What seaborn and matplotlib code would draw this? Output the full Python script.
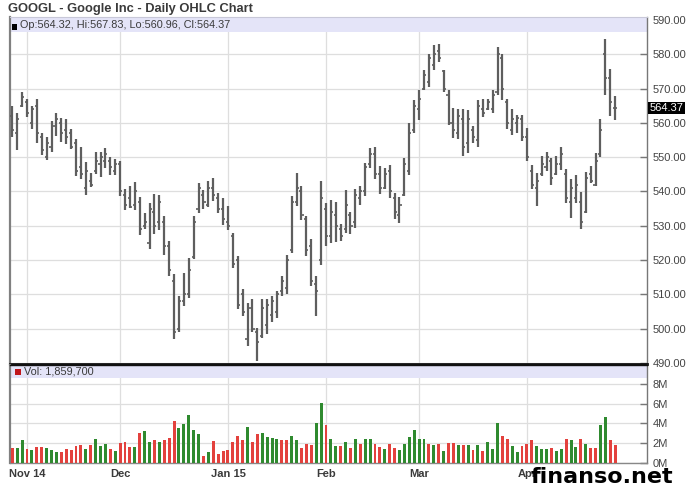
import numpy as np
import pandas as pd
import matplotlib
matplotlib.use("Agg")
import matplotlib.pyplot as plt
from matplotlib.patches import Rectangle
from matplotlib.ticker import FuncFormatter, FixedLocator
import matplotlib.transforms as mtransforms
import seaborn as sns

# ---------------- data ----------------
holidays = ["2014-11-27", "2014-12-25", "2015-01-01", "2015-01-19", "2015-02-16", "2015-04-03"]
dates = [d for d in pd.bdate_range("2014-10-29", "2015-04-28") if d.strftime("%Y-%m-%d") not in holidays]

opens = [562, 557, 565, 566, 560, 565, 556, 550, 553, 559,
         560, 558, 557, 554, 547, 541, 543, 546, 548, 549,
         549, 546, 548, 539, 538, 536, 537, 530, 525, 534,
         531, 531, 524, 514, 500, 508, 510, 521, 535, 539,
         536, 541, 538, 535, 531, 527, 520, 510, 497, 506,
         499, 498, 501, 504, 505, 511, 512, 523, 537, 540,
         532, 524, 513, 520, 535, 527, 533, 529, 529, 533,
         531, 538, 540, 548, 551, 545, 541, 546, 538, 533,
         539, 546, 558, 564, 570, 572, 577, 581, 575, 568,
         560, 557, 561, 554, 558, 555, 564, 564, 564, 569,
         579, 566, 558, 560, 561, 556, 546, 541, 545, 547,
         549, 545, 548, 545, 537, 538, 537, 534, 545, 542,
         551, 580, 573, 564.32]
highs = [565, 563, 569, 567.1, 564.9, 566.9, 557, 555.8, 560.6, 562.8,
         561.3, 561, 558.1, 555.2, 553.1, 548.5, 545.4, 551.4, 551.4, 552.6,
         550, 549.6, 549, 540.7, 541.5, 542.7, 538.4, 533.8, 536.5, 539.4,
         539, 532.8, 525.5, 515.8, 509.5, 516.3, 520.7, 532.8, 542.4, 540.5,
         543.2, 543.9, 539.5, 538.1, 535.7, 527.9, 521.2, 511.5, 507.6, 508.6,
         500.3, 508.6, 508.6, 509.5, 511, 515.5, 521.6, 538.6, 545.4, 541.5,
         532.8, 526, 515.3, 543.2, 536.7, 537.5, 536.9, 530.4, 540.3, 534,
         540.8, 541.5, 548.3, 552.7, 552.9, 547.3, 546.9, 547.8, 539.6, 538.5,
         549.8, 559.9, 566.7, 569.6, 575.4, 580.2, 582.6, 582.9, 575.4, 569.6,
         564.3, 564, 564, 563.8, 559, 566.7, 567.1, 567.1, 569.6, 582.1,
         580.2, 567.1, 564, 562.3, 562.3, 558.5, 547.8, 545.4, 550.2, 551.4,
         549.8, 550.2, 553.1, 546.6, 543.5, 544.9, 539.8, 545.6, 547.5, 551.2,
         561.1, 584.5, 575.6, 567.83]
lows = [556, 552, 564.5, 561.8, 558.1, 554.1, 550.7, 549.2, 551.6, 556.2,
        554.5, 553.9, 552.3, 544.4, 543.6, 539.1, 541.3, 545.2, 544.2, 546.8,
        544.9, 544.9, 538.6, 534.5, 535.2, 534.7, 527.2, 529.1, 523.3, 527.5,
        528.9, 521.5, 515.3, 497.1, 499.1, 506.6, 508.8, 520.4, 533.7, 534.9,
        535.5, 537.1, 533.7, 530.3, 528.9, 517.8, 505.7, 503.7, 495, 498.9,
        490.7, 497.4, 498.4, 501.8, 503.2, 509.5, 510, 522.1, 535.7, 531.8,
        521.2, 512.4, 503.7, 518.7, 524.2, 525.1, 525.4, 525.6, 528, 527.5,
        529.3, 536, 538.6, 546.9, 543.5, 539.4, 540.6, 538.2, 531.9, 530.9,
        538.6, 544.9, 557, 560.9, 569.6, 570.5, 575.4, 577.8, 569.1, 559.4,
        555.6, 555.3, 550.2, 551.2, 554, 553.1, 561.8, 563.8, 562.8, 568.1,
        566.7, 558.2, 556.5, 557, 554.6, 548.8, 540.6, 535.7, 544.4, 545.9,
        542, 544.9, 546.4, 536.7, 532.4, 536.7, 529, 533.8, 542.5, 541.5,
        550, 568.1, 562, 560.96]
closes = [558, 561, 567.5, 563, 564, 557, 552, 554, 559, 561,
          557, 556, 553, 546, 545, 546, 542, 549, 550, 551,
          547, 548, 540, 536, 535.5, 540, 529, 531, 535, 530,
          537, 524, 517, 499, 508, 510, 517, 531, 541, 537,
          541, 539, 535, 532, 530, 519, 507, 505, 506, 500,
          496, 506, 507, 508, 510, 514, 520, 537, 541, 533,
          523, 514, 511, 538, 527, 534, 530, 527, 536, 530,
          539, 540, 547, 551, 545, 541, 545, 540, 534, 536,
          548, 557, 565, 567, 574, 579, 580, 579, 570, 560,
          558, 562, 553, 561, 556, 565, 563, 566, 568, 580,
          570, 560, 561, 561.5, 556, 550, 542, 543, 548, 550,
          544, 548, 551, 538, 541, 542, 531, 544, 543, 549,
          558, 573, 566, 564.37]
volumes_m = [1.5, 1.56, 2.3, 1.46, 1.36, 1.63, 1.63, 1.56, 1.29, 1.08,
             1.08, 1.46, 1.36, 1.69, 1.8, 1.46, 1.8, 2.47, 1.69, 1.9,
             1.46, 1.22, 2.03, 2.14, 1.63, 1.63, 3.05, 3.22, 2.17, 2.3,
             2.1, 2.37, 2.58, 4.27, 3.59, 3.93, 4.85, 3.32, 2.92, 0.68,
             1.08, 2.24, 0.95, 1.22, 1.36, 2.1, 2.71, 2.3, 3.66, 2.1,
             2.92, 3.08, 2.64, 2.58, 2.47, 2.3, 2.3, 2.78, 2.3, 1.49,
             1.97, 1.8, 4.0, 6.1, 3.8, 2.44, 1.69, 1.69, 2.1, 1.53,
             2.41, 1.9, 2.41, 2.41, 1.97, 1.63, 1.46, 1.9, 1.56, 1.36,
             1.97, 2.64, 3.39, 2.47, 2.47, 1.9, 1.8, 1.9, 1.19, 2.03,
             2.03, 1.8, 1.8, 1.8, 1.36, 1.8, 1.22, 2.14, 1.46, 4.0,
             2.71, 2.47, 1.69, 1.12, 1.69, 1.9, 2.37, 1.69, 1.46, 1.46,
             1.56, 1.22, 1.46, 2.41, 2.3, 1.63, 2.47, 1.9, 1.56, 1.56,
             3.83, 4.61, 2.37, 1.8597]
vol_dirs = ("r" + "ggrgrrgggr" + "rrrrgrgggr" + "grrrgrggrg" + "rrrgggggrg"
            + "rrrrrrrgrr" + "ggggrrggrr" + "rggrggrgrg" + "rggrrgrrgg"
            + "ggggrgrgrr" + "grgrgrgggr" + "rggrrrgggr" + "ggrggrgrrg" + "grr")
month_labels = ["Nov 14", "Dec", "Jan 15", "Feb", "Mar", "Apr"]
price_ticks = [490, 500, 510, 520, 530, 540, 550, 560, 570, 580, 590]
vol_ticks_m = [0, 2, 4, 6, 8]
title = "GOOGL - Google Inc - Daily OHLC Chart"
info = "Op:564.32, Hi:567.83, Lo:560.96, Cl:564.37"
vol_info = "Vol: 1,859,700"
last_close = 564.37

# ---------------- build frames ----------------
n = len(dates)
idx = np.arange(n)
df = pd.DataFrame({"idx": idx, "date": dates, "open": opens, "high": highs,
                   "low": lows, "close": closes,
                   "vol": np.array(volumes_m) * 1e6,
                   "dir": ["up" if c == "g" else "down" for c in vol_dirs]})
month_pos = [int(df.index[(df.date.dt.month == m) & (df.date.dt.year == y)][0])
             for y, m in [(2014, 11), (2014, 12), (2015, 1), (2015, 2), (2015, 3), (2015, 4)]]

# ---------------- style ----------------
sns.set_theme(style="white")
plt.rcParams["font.family"] = ["Liberation Sans", "DejaVu Sans"]

W, H = 688, 503
fig = plt.figure(figsize=(W / 100, H / 100), dpi=100)
fig.patch.set_facecolor("white")

def fx(px):
    return px / W

def fy(py):
    return 1 - py / H

ax = fig.add_axes([fx(10), fy(364), fx(637), (364 - 17) / H])
axv = fig.add_axes([fx(10), fy(463), fx(637), (463 - 365) / H])

grid_c = "#dedede"
bar_c = "#5e5e5e"
lav = "#e4e4f8"
green = "#2f8a2f"
red = "#e3413d"
txt_c = "#3a3a3a"

xlim = (-0.47, 129.5)

# ---- price panel ----
ax.set_xlim(*xlim)
ax.set_ylim(489.7, 590.87)
ax.vlines(df.idx, df.low, df.high, color=bar_c, lw=1.6, zorder=3)
ax.hlines(df.open, df.idx - 0.42, df.idx, color=bar_c, lw=1.2, zorder=3)
ax.hlines(df.close, df.idx, df.idx + 0.42, color=bar_c, lw=1.2, zorder=3)

ax.yaxis.tick_right()
ax.yaxis.set_major_locator(FixedLocator(price_ticks))
ax.yaxis.set_major_formatter(FuncFormatter(lambda v, _: f"{v:.2f}"))
ax.set_xticks(month_pos)
ax.set_xticklabels([])
ax.tick_params(axis="x", length=0)
ax.tick_params(axis="y", direction="in", length=5, width=1, color="#777777",
               labelsize=8, labelcolor="#444444", pad=4, right=True, left=False)
ax.grid(True, color=grid_c, lw=0.9, zorder=0)
ax.set_axisbelow(True)
ax.add_patch(Rectangle((0, 1 - 15 / 347), 1, 15 / 347, transform=ax.transAxes,
                       facecolor=lav, edgecolor="none", zorder=1))
ax.add_patch(Rectangle((0.003, 1 - 12.5 / 347), 5 / 637, 6 / 347, transform=ax.transAxes,
                       facecolor="black", edgecolor="none", zorder=5))
ax.text(10 / 637, 1 - 8.5 / 347, info, transform=ax.transAxes, fontsize=7.8,
        color=txt_c, va="center", ha="left", zorder=6)
for side, col, lw in [("left", "#808080", 1.6), ("right", "#777777", 1.0),
                      ("bottom", "#111111", 2.0), ("top", "#c8c8d8", 0.8)]:
    ax.spines[side].set_visible(True)
    ax.spines[side].set_color(col)
    ax.spines[side].set_linewidth(lw)

trans = mtransforms.blended_transform_factory(ax.transAxes, ax.transData)
ax.text(1.004, last_close, f"{last_close:.2f}", transform=trans, fontsize=8,
        color="white", va="center", ha="left", zorder=7,
        bbox=dict(facecolor="black", edgecolor="none", pad=0.8))

# ---- volume panel ----
sns.barplot(data=df, x="idx", y="vol", hue="dir", palette={"up": green, "down": red},
            native_scale=True, width=0.6, dodge=False, errorbar=None, saturation=1,
            legend=False, ax=axv, zorder=3, linewidth=0)
axv.set_xlim(*xlim)
axv.set_ylim(0, 9.92e6)
axv.set_xlabel("")
axv.set_ylabel("")
axv.yaxis.tick_right()
axv.yaxis.set_major_locator(FixedLocator([v * 1e6 for v in vol_ticks_m]))
axv.yaxis.set_major_formatter(FuncFormatter(lambda v, _: f"{v / 1e6:.0f}M"))
axv.set_xticks(month_pos)
axv.set_xticklabels(month_labels, fontsize=8, fontweight="bold", color="#3a3a3a")
axv.tick_params(axis="x", length=0, pad=4)
axv.tick_params(axis="y", direction="in", length=5, width=1, color="#777777",
                labelsize=8, labelcolor="#444444", pad=4, right=True, left=False)
axv.grid(True, color=grid_c, lw=0.9, zorder=0)
axv.set_axisbelow(True)
axv.add_patch(Rectangle((0, 1 - 13 / 98), 1, 12 / 98, transform=axv.transAxes,
                        facecolor=lav, edgecolor="none", zorder=1))
axv.add_patch(Rectangle((5 / 637, 1 - 10 / 98), 6 / 637, 6 / 98, transform=axv.transAxes,
                        facecolor="#c0161b", edgecolor="none", zorder=5))
axv.text(14 / 637, 1 - 7 / 98, vol_info, transform=axv.transAxes, fontsize=7.8,
         color=txt_c, va="center", ha="left", zorder=6)
for side, col, lw in [("left", "#808080", 1.6), ("right", "#777777", 1.0),
                      ("bottom", "#888888", 1.0), ("top", "#111111", 1.0)]:
    axv.spines[side].set_visible(True)
    axv.spines[side].set_color(col)
    axv.spines[side].set_linewidth(lw)

# ---- titles / watermark ----
fig.text(fx(8), fy(9), title, fontsize=9.3, fontweight="bold", color="#3a3a3a",
         ha="left", va="center")
fig.text(fx(531), fy(483), "finanso.net", fontsize=16, fontweight="bold",
         family=["DejaVu Sans"], color="black", ha="left", va="baseline", zorder=10)

fig.savefig("out.png", dpi=100, facecolor="white")
